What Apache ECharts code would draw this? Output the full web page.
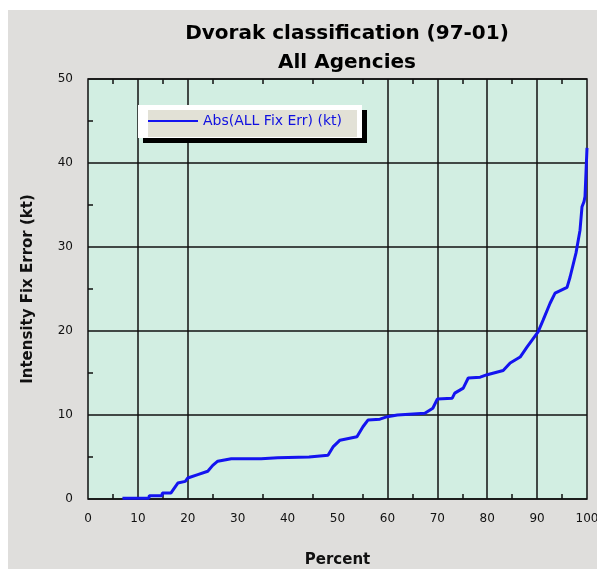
<!DOCTYPE html>
<html><head><meta charset="utf-8">
<script src="https://cdn.jsdelivr.net/npm/echarts@6/dist/echarts.min.js"></script>
<style>html,body{margin:0;padding:0;background:#fff}#c{width:597px;height:569px}</style>
</head><body><div id="c"></div>
<script>
const percent = [6.9,12.2,12.3,14.8,14.9,16.6,18.0,19.5,20,22,24,25,26,28.7,34.7,38,44.3,44.4,48.1,49.1,50.5,53.9,55.1,56.1,58.5,60,62,67.5,69.1,70,73,73.5,75.2,76.2,78.6,80,83.2,84.6,86.6,88,90.2,91.2,92.6,93.6,96,96.6,97.8,98.6,99,99.4,99.6,100];
const error =   [0.1,0.1,0.4,0.4,0.7,0.7,1.9,2.1,2.5,2.9,3.3,4.0,4.5,4.8,4.8,4.9,5.0,5.2,5.2,6.2,7.0,7.4,8.6,9.4,9.5,9.8,10.0,10.2,10.8,11.9,12.0,12.6,13.2,14.4,14.5,14.8,15.3,16.2,16.9,18.1,19.9,21.3,23.3,24.5,25.2,26.4,29.3,32.0,34.8,35.4,36.0,41.8];
const gridX = [10,20,60,70,80,90];
const seriesName = 'Abs(ALL Fix Err) (kt)';
const titleLines = ['Dvorak classification (97-01)','All Agencies'];

const chart = echarts.init(document.getElementById('c'), null, {renderer:'canvas'});
const black = '#111';
const xCommon = {type:'value', min:0, max:100, interval:10,
  splitLine:{show:false}, axisLine:{show:false},
  axisTick:{show:false, inside:true},
  minorTick:{show:true, splitNumber:2, length:5, lineStyle:{color:black, width:1.5}}};
chart.setOption({
  backgroundColor:'#ffffff',
  animation:false,
  graphic:[
    {type:'rect', z:-100, silent:true, shape:{x:8,y:10,width:589,height:559}, style:{fill:'#dfdedc'}},
    {type:'rect', z:50, silent:true, shape:{x:143,y:110,width:224,height:33}, style:{fill:'#000'}},
    {type:'rect', z:51, silent:true, shape:{x:138,y:105,width:224,height:33}, style:{fill:'#fff'}},
    {type:'rect', z:52, silent:true, shape:{x:148,y:110,width:209,height:27}, style:{fill:'#e2e1d6'}}
  ],
  title:{text:titleLines.join('\n'), left:342, textAlign:'center', top:14,
    textStyle:{fontFamily:'DejaVu Sans', fontWeight:'bold', fontSize:20, color:'#000', lineHeight:29}},
  legend:{data:[seriesName], left:148, top:114, orient:'horizontal', z:60,
    padding:0, itemWidth:50, itemHeight:2, icon:'rect', itemGap:2,
    textStyle:{fontFamily:'DejaVu Sans', fontSize:14, color:'#1010e0', padding:[0,0,0,0]}},
  grid:{left:88, right:10, top:79, bottom:70, show:true, outerBoundsMode:'none', containLabel:false,
    backgroundColor:'#d2eee2', borderColor:black, borderWidth:1.5},
  xAxis:[Object.assign({}, xCommon, {position:'bottom',
      name:'Percent', nameLocation:'middle', nameGap:54,
      nameTextStyle:{fontFamily:'DejaVu Sans', fontWeight:'bold', fontSize:15, color:black},
      axisLabel:{margin:14, fontFamily:'DejaVu Sans', fontSize:12, color:black}}),
    Object.assign({}, xCommon, {position:'top', axisLabel:{show:false}})],
  yAxis:{type:'value', min:0, max:50, interval:10,
    name:'Intensity Fix Error (kt)', nameLocation:'middle', nameGap:52,
    nameTextStyle:{fontFamily:'DejaVu Sans', fontWeight:'bold', fontSize:15, color:black},
    axisLine:{show:false}, axisTick:{show:false, inside:true},
    minorTick:{show:true, splitNumber:2, length:5, lineStyle:{color:black, width:1.5}},
    splitLine:{show:true, lineStyle:{color:black, width:1.5}},
    axisLabel:{margin:15, fontFamily:'DejaVu Sans', fontSize:12, color:black}},
  series:[{name:seriesName, type:'line', data:percent.map((p,i)=>[p,error[i]]),
    showSymbol:false, symbol:'none', lineStyle:{color:'#1414f0', width:3}, itemStyle:{color:'#1414f0'},
    z:5,
    markLine:{silent:true, symbol:['none','none'], label:{show:false},
      lineStyle:{color:black, width:1.5, type:'solid'},
      data:gridX.map(v=>({xAxis:v}))}}]
});
</script></body></html>
